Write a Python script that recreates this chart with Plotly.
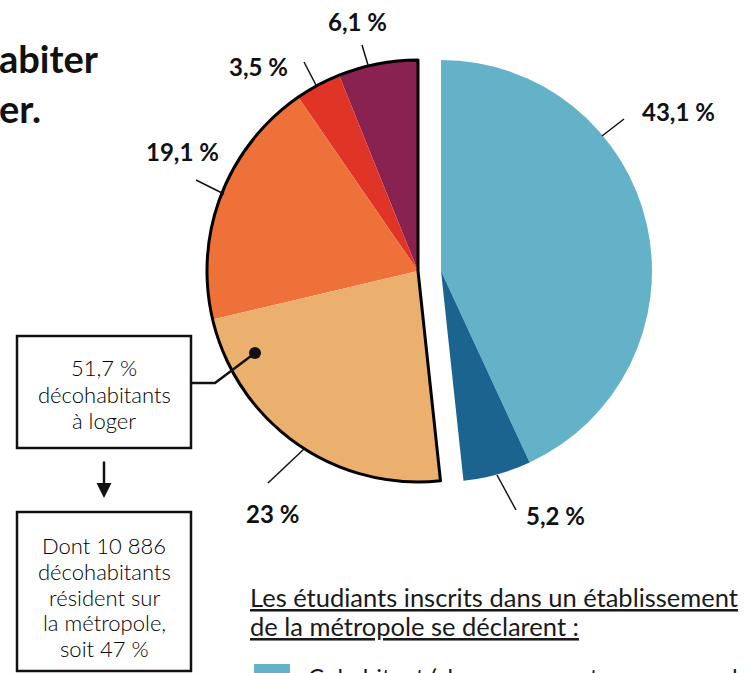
import plotly.graph_objects as go

W, H = 746, 673

# ---- data ----
cohab_labels = ["Cohabitant", "Cohabitant autre"]
cohab_values = [43.1, 5.2]
decohab_labels = ["Décohabitant 6,1", "Décohabitant 3,5", "Décohabitant 19,1", "Décohabitant 23"]
decohab_values = [6.1, 3.5, 19.1, 23.0]
value_labels = ["43,1 %", "5,2 %", "6,1 %", "3,5 %", "19,1 %", "23 %"]
decohab_total_label = "51,7 %"

cohab_colors = ["#63B2C8", "#1B6490"]
decohab_colors = ["#892250", "#E03426", "#EE7139", "#EBB06E"]
CLEAR = "rgba(0,0,0,0)"

def X(px):
    return px / W

def Y(py):
    return 1 - py / H

def dom_x(cx, r):
    return [X(cx - r), X(cx + r)]

def dom_y(cy, r):
    return [Y(cy + r), Y(cy - r)]

R = 211
CY = 271
CX_BLUE = 441
CX_ORANGE = 418

cohab_total = sum(cohab_values)
decohab_total = sum(decohab_values)

fig = go.Figure()

# blue group (clockwise from 12 o'clock)
fig.add_trace(go.Pie(
    values=cohab_values + [decohab_total],
    labels=cohab_labels + ["_rest1"],
    marker=dict(colors=cohab_colors + [CLEAR], line=dict(width=0)),
    direction="clockwise", rotation=0, sort=False,
    textinfo="none", hoverinfo="skip", showlegend=False,
    domain=dict(x=dom_x(CX_BLUE, R), y=dom_y(CY, R)),
))

# orange group (counterclockwise from 12 o'clock); the first (clear) slice
# fills the right-hand side in plotly's counterclockwise layout
fig.add_trace(go.Pie(
    values=[cohab_total] + decohab_values,
    labels=["_rest2"] + decohab_labels,
    marker=dict(colors=[CLEAR] + decohab_colors, line=dict(width=0)),
    direction="counterclockwise", rotation=0, sort=False,
    textinfo="none", hoverinfo="skip", showlegend=False,
    domain=dict(x=dom_x(CX_ORANGE, R), y=dom_y(CY, R)),
))

# outline of the whole decohabitant group
fig.add_trace(go.Pie(
    values=[cohab_total, decohab_total],
    labels=["_none", "_outline"],
    marker=dict(colors=[CLEAR, CLEAR],
                line=dict(color=[CLEAR, "#000000"], width=[0, 3])),
    direction="counterclockwise", rotation=0, sort=False,
    textinfo="none", hoverinfo="skip", showlegend=False,
    domain=dict(x=dom_x(CX_ORANGE, R), y=dom_y(CY, R)),
))

shapes = []
annotations = []

def line(x0, y0, x1, y1, w=1.5, color="#111111"):
    shapes.append(dict(type="line", xref="paper", yref="paper",
                       x0=X(x0), y0=Y(y0), x1=X(x1), y1=Y(y1),
                       line=dict(color=color, width=w)))

def text(t, x, y, size, bold=False, xanchor="center", yanchor="middle", color="#111111",
         family="Lato", align="center", weight=None):
    f = dict(size=size, color=color, family=family)
    if weight is not None:
        f["weight"] = weight
    annotations.append(dict(text=("<b>%s</b>" % t) if bold else t, xref="paper", yref="paper",
                            x=X(x), y=Y(y), xanchor=xanchor, yanchor=yanchor, showarrow=False,
                            align=align, font=f))

# leader lines + labels
LBL = 24
line(602, 136, 624, 119)
text(value_labels[0], 678, 112, LBL, bold=True)
line(497, 475, 516, 510)
text(value_labels[1], 555, 515, LBL, bold=True)
line(362, 45, 368, 65)
text(value_labels[2], 357, 21, LBL, bold=True)
line(304, 62, 317, 87)
text(value_labels[3], 258, 67, LBL, bold=True)
line(196, 180, 224, 194)
text(value_labels[4], 182, 152, LBL, bold=True)
line(268, 483, 304, 449)
text(value_labels[5], 272, 513, LBL, bold=True)

# title fragment (cut at left edge)
text("abiter", -3, 58, 38, bold=True, xanchor="left", family="Lato")
text("er.", -3, 108, 38, bold=True, xanchor="left", family="Lato")

BOX_FONT = 22

# box 1
shapes.append(dict(type="rect", xref="paper", yref="paper",
                   x0=X(17), y0=Y(336), x1=X(191), y1=Y(448),
                   line=dict(color="#111111", width=2.5), fillcolor="white"))
for t, yy in zip([decohab_total_label, "décohabitants", "à loger"], [368, 394, 420]):
    text(t, 104, yy, BOX_FONT, family="Lato", weight=300, color="#000000")

# connector from box to dot
shapes.append(dict(type="path", xref="paper", yref="paper",
                   path="M %f %f L %f %f L %f %f" % (X(191), Y(383), X(215), Y(383), X(255), Y(353)),
                   line=dict(color="#111111", width=2.5)))
shapes.append(dict(type="circle", xref="paper", yref="paper",
                   x0=X(249), y0=Y(347), x1=X(261), y1=Y(359),
                   fillcolor="#111111", line=dict(color="#111111", width=0)))

# arrow
annotations.append(dict(text="", xref="paper", yref="paper", x=X(104), y=Y(498),
                        ax=0, ay=-38, showarrow=True, arrowhead=2, arrowsize=1.2,
                        arrowwidth=2.5, arrowcolor="#111111"))

# box 2
shapes.append(dict(type="rect", xref="paper", yref="paper",
                   x0=X(17), y0=Y(512), x1=X(191), y1=Y(671),
                   line=dict(color="#111111", width=2.5), fillcolor="white"))
for t, yy in zip(["Dont 10 886", "décohabitants", "résident sur", "la métropole,", "soit 47 %"],
                 [545, 571, 597, 622.5, 648]):
    text(t, 104, yy, BOX_FONT, family="Lato", weight=300, color="#000000")

# legend header
text("<u>Les étudiants inscrits dans un établissement</u>", 248, 597, 25.5,
     xanchor="left", align="left", family="Lato", color="#1a1a1a")
text("<u>de la métropole se déclarent :</u>", 248, 626, 25.5,
     xanchor="left", align="left", family="Lato", color="#1a1a1a")

# legend first item (cut off at bottom)
shapes.append(dict(type="rect", xref="paper", yref="paper",
                   x0=X(254), y0=Y(664), x1=X(290), y1=Y(690),
                   line=dict(width=0), fillcolor=cohab_colors[0]))
text("Cohabitant (chez ses parents ou en couple)", 306, 660, 24, xanchor="left", yanchor="top",
     align="left", family="Lato", color="#1a1a1a")

fig.update_layout(
    width=W, height=H,
    margin=dict(l=0, r=0, t=0, b=0),
    paper_bgcolor="white", plot_bgcolor="white",
    shapes=shapes, annotations=annotations,
    showlegend=False,
)

fig.write_html("out.html", config={"displayModeBar": False},
               post_script="document.body.style.margin='0px';")
